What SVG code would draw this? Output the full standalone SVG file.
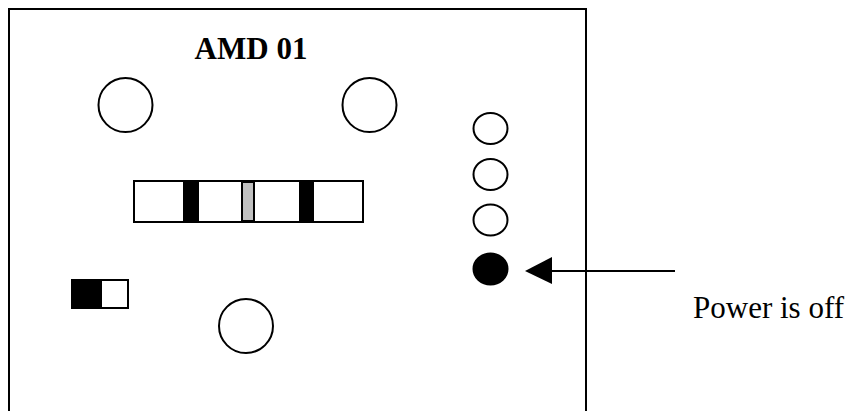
<svg xmlns="http://www.w3.org/2000/svg" width="854" height="411" viewBox="0 0 854 411">
<style>
.ln{fill:none;stroke:#000;stroke-width:2}
.wh{fill:#fff;stroke:#000;stroke-width:2}
.blk{fill:#000;stroke:#000;stroke-width:2}
.t{font-family:"Liberation Serif","Times New Roman",serif;fill:#000}
</style>
<rect width="854" height="411" fill="#fff"/>
<g id="panel">
<path class="ln" d="M9,411 L9,9 L586,9 L586,411"/>
</g>
<g id="title"><text class="t" x="251" y="59" font-size="31" font-weight="bold" text-anchor="middle">AMD 01</text></g>
<g id="knob1"><circle class="wh" cx="125.5" cy="105" r="27"/></g>
<g id="knob2"><circle class="wh" cx="369.5" cy="105" r="27"/></g>
<g id="knob3"><circle class="wh" cx="246" cy="326" r="27"/></g>
<g id="bar">
<rect class="wh" x="134" y="181" width="229" height="41"/>
<rect class="blk" x="184" y="182" width="14" height="39"/>
<rect x="242" y="182" width="12" height="39" fill="#c0c0c0" stroke="#000" stroke-width="2"/>
<rect class="blk" x="300" y="182" width="13" height="39"/>
</g>
<g id="switch">
<rect class="wh" x="72" y="280" width="56" height="28"/>
<rect class="blk" x="72" y="280" width="29" height="28"/>
</g>
<g id="led1"><ellipse class="wh" cx="490.5" cy="128.5" rx="17" ry="15.5"/></g>
<g id="led2"><ellipse class="wh" cx="490.5" cy="174.5" rx="17" ry="15.5"/></g>
<g id="led3"><ellipse class="wh" cx="490.5" cy="220" rx="17" ry="15.5"/></g>
<g id="led4"><ellipse class="blk" cx="490.5" cy="269" rx="17" ry="15.5"/></g>
<g id="connectors">
<line class="ln" x1="675" y1="271" x2="550" y2="271"/>
<polygon points="525,271 552,257 552,284" fill="#000"/>
</g>
<g id="label"><text class="t" x="693" y="318" font-size="31">Power is off</text></g>
</svg>
